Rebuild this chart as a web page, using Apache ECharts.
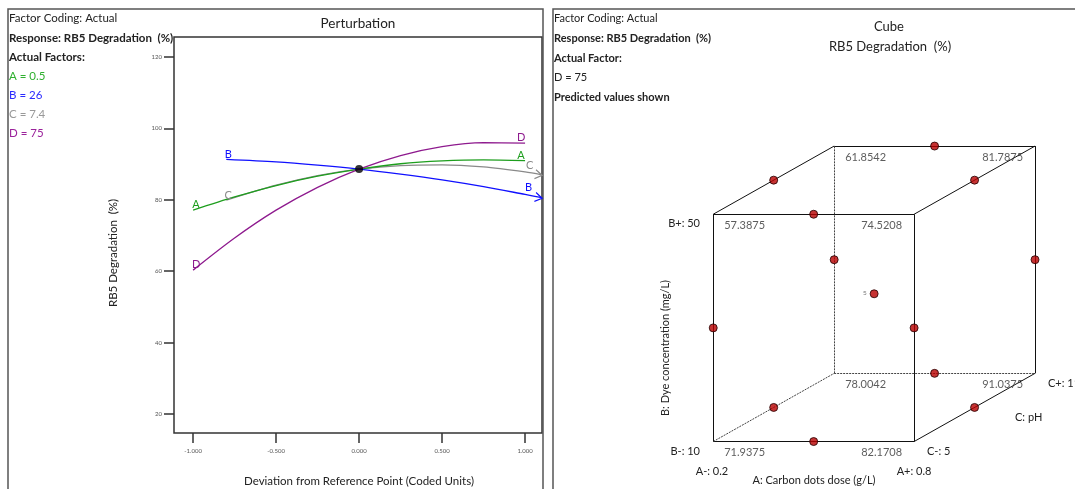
<!DOCTYPE html>
<html lang="en">
<head>
<meta charset="UTF-8">
<title>Perturbation and Cube</title>
<script src="https://cdn.jsdelivr.net/npm/echarts@6/dist/echarts.min.js"></script>
<style>
  html, body { margin: 0; padding: 0; background: #fff; }
  #chart { width: 1075px; height: 489px; }
</style>
</head>
<body>
<div id="chart"></div>
<script>
// ---- perturbation data (coded deviation vs RB5 degradation %) ----
var xAD = [-1, -0.75, -0.5, -0.25, 0, 0.25, 0.5, 0.75, 1];
var aValues = [77.1, 80.8, 84.0, 86.6, 88.6, 90.1, 90.9, 91.2, 91.0];
var dValues = [60.3, 69.3, 77.1, 83.5, 88.6, 92.4, 94.9, 96.0, 95.9];
var xBC = [-0.8, -0.5, -0.25, 0, 0.25, 0.5, 0.75, 1, 1.1];
var bValues = [91.3, 90.6, 89.7, 88.6, 87.2, 85.6, 83.7, 81.5, 80.6];
var cValues = [79.9, 84.1, 86.8, 88.6, 89.6, 89.8, 89.2, 87.8, 87.0];
var refPoint = [0, 88.6];
var xTicks = [-1, -0.5, 0, 0.5, 1];
var yTicks = [20, 40, 60, 80, 100, 120];

// ---- cube data (coded A, B, C) ----
var cubeCorners = [[-1,-1,-1],[1,-1,-1],[-1,-1,1],[1,-1,1],[-1,1,-1],[1,1,-1],[-1,1,1],[1,1,1]];
var cornerValues = [71.9375, 82.1708, 78.0042, 91.0375, 57.3875, 74.5208, 61.8542, 81.7875];
var designRuns = [[0,-1,-1],[0,1,-1],[0,-1,1],[0,1,1],[-1,0,-1],[1,0,-1],[-1,0,1],[1,0,1],[-1,-1,0],[1,-1,0],[-1,1,0],[1,1,0]];
var centerRuns = 5;

var FONT = 'Lato, "Noto Sans", sans-serif';
var colA = '#1e9e1e', colB = '#1010ff', colC = '#8a8a8a', colD = '#8e1a8e';

// oblique projection of the cube
function proj(p) { return [p[0] + 0.602 * p[2], p[1] + 0.3 * p[2]]; }

function lineData(xs, ys, name, color, leftOff, rightOff, arrowRot) {
  return xs.map(function (x, i) {
    var item = { value: [x, ys[i]] };
    var lab = { show: true, formatter: name, position: 'top', distance: 0, color: color, fontSize: 11, fontFamily: FONT };
    if (i === 0) item.label = Object.assign({}, lab, { offset: leftOff });
    if (i === xs.length - 1) {
      item.label = Object.assign({}, lab, { offset: rightOff });
      if (arrowRot !== undefined) {
        item.symbol = 'path://M0,0L10,5L0,10';
        item.symbolSize = [7, 9];
        item.symbolOffset = [-3, 0];
        item.symbolRotate = arrowRot;
        item.itemStyle = { color: 'rgba(0,0,0,0)', borderColor: color, borderWidth: 1.2 };
      }
    }
    return item;
  });
}

function lineSeries(data, color) {
  return {
    type: 'line', xAxisIndex: 0, yAxisIndex: 0, smooth: 0.3,
    symbol: 'circle', symbolSize: 0, data: data,
    lineStyle: { color: color, width: 1.3 },
    itemStyle: { color: color }, silent: true, animation: false
  };
}

// cube edges
var edges = [];
for (var i = 0; i < cubeCorners.length; i++) {
  for (var j = i + 1; j < cubeCorners.length; j++) {
    var p = cubeCorners[i], q = cubeCorners[j], diff = 0;
    for (var k = 0; k < 3; k++) if (p[k] !== q[k]) diff++;
    if (diff === 1) {
      var hidden = (p[0] === -1 && p[1] === -1 && p[2] === 1) || (q[0] === -1 && q[1] === -1 && q[2] === 1);
      edges.push({ coords: [proj(p), proj(q)], hidden: hidden });
    }
  }
}

var cornerData = cubeCorners.map(function (c, i) {
  var xy = proj(c);
  var left = c[0] === -1;
  return {
    value: [xy[0], xy[1], cornerValues[i]],
    label: { position: [left ? 11 : -12, 11], align: left ? 'left' : 'right', verticalAlign: 'middle' }
  };
});

var runData = designRuns.map(function (r) { return proj(r); });
runData.push({ value: proj([0, 0, 0]), label: { show: true, formatter: String(centerRuns), position: 'left', distance: 3, fontSize: 6, color: '#555' } });

function txt(x, y, s, opt) {
  opt = opt || {};
  return {
    type: 'text', x: x, y: y, rotation: opt.rot || 0, z: 10,
    style: {
      text: s, fill: opt.color || '#222', textAlign: opt.align || 'left', textVerticalAlign: 'middle',
      font: (opt.bold ? 'bold ' : '') + (opt.size || 11) + 'px ' + FONT
    }
  };
}

var chart = echarts.init(document.getElementById('chart'));
chart.setOption({
  animation: false,
  backgroundColor: '#fff',
  grid: [
    { left: 174, top: 37, width: 368, height: 396, show: true, borderColor: '#333', borderWidth: 1.5, backgroundColor: 'transparent' },
    { left: 613, top: 129, width: 462, height: 358, show: false }
  ],
  xAxis: [
    {
      type: 'value', gridIndex: 0, min: -1.115, max: 1.102,
      axisLine: { show: false, onZero: false }, splitLine: { show: false },
      axisTick: { show: true, length: 10, customValues: xTicks, lineStyle: { color: '#333', width: 1.5 } },
      axisLabel: { customValues: xTicks, margin: 15, fontSize: 6, color: '#555', fontFamily: FONT,
        formatter: function (v) { return v.toFixed(3); } }
    },
    { type: 'value', gridIndex: 1, min: -2.6, max: 2.0, show: false }
  ],
  yAxis: [
    {
      type: 'value', gridIndex: 0, min: 14.68, max: 125.6,
      axisLine: { show: false, onZero: false }, splitLine: { show: false },
      axisTick: { show: true, length: 10, customValues: yTicks, lineStyle: { color: '#333', width: 1.5 } },
      axisLabel: { customValues: yTicks, margin: 12, fontSize: 6, color: '#555', fontFamily: FONT }
    },
    { type: 'value', gridIndex: 1, min: -1.7, max: 1.45, show: false }
  ],
  series: [
    lineSeries(lineData(xBC, cValues, 'C', colC, [2, 1], [-9, 2], -10), colC),
    lineSeries(lineData(xAD, aValues, 'A', colA, [3, 0], [-4, 0]), colA),
    lineSeries(lineData(xBC, bValues, 'B', colB, [2, 0], [-10, 1], -11), colB),
    lineSeries(lineData(xAD, dValues, 'D', colD, [3, 0], [-4, 0]), colD),
    {
      type: 'scatter', xAxisIndex: 0, yAxisIndex: 0, data: [refPoint],
      symbolSize: 8, itemStyle: { color: '#000' }, silent: true, z: 5
    },
    {
      type: 'lines', coordinateSystem: 'cartesian2d', xAxisIndex: 1, yAxisIndex: 1, silent: true,
      data: edges.filter(function (e) { return !e.hidden; }),
      lineStyle: { color: '#111', width: 1, type: 'solid', opacity: 1 }
    },
    {
      type: 'lines', coordinateSystem: 'cartesian2d', xAxisIndex: 1, yAxisIndex: 1, silent: true,
      data: edges.filter(function (e) { return e.hidden; }),
      lineStyle: { color: '#444', width: 1, type: [2, 1], opacity: 1 }
    },
    {
      type: 'scatter', xAxisIndex: 1, yAxisIndex: 1, data: cornerData, symbolSize: 0, silent: true,
      label: { show: true, fontSize: 11, color: '#333', fontFamily: FONT,
        formatter: function (p) { return p.value[2].toFixed(4); } }
    },
    {
      type: 'scatter', xAxisIndex: 1, yAxisIndex: 1, data: runData, symbolSize: 8, silent: true, z: 5,
      itemStyle: { color: '#b80000', borderColor: '#200', borderWidth: 1 }
    }
  ],
  graphic: [
    { type: 'rect', shape: { x: 8, y: 9, width: 535, height: 495 }, style: { fill: 'none', stroke: '#555', lineWidth: 1.5 }, z: 1 },
    { type: 'rect', shape: { x: 553, y: 9, width: 540, height: 495 }, style: { fill: 'none', stroke: '#555', lineWidth: 1.5 }, z: 1 },
    // left panel
    txt(9, 18, 'Factor Coding: Actual', { size: 11.5 }),
    txt(9, 38, 'Response: RB5 Degradation  (%)', { bold: true, size: 11.5 }),
    txt(9, 57, 'Actual Factors:', { bold: true, size: 11.5 }),
    txt(9, 76, 'A = 0.5', { color: '#2fb02f', size: 11.5 }),
    txt(9, 95, 'B = 26', { color: '#2a2aff', size: 11.5 }),
    txt(9, 114, 'C = 7.4', { color: '#999', size: 11.5 }),
    txt(9, 133, 'D = 75', { color: '#9b229b', size: 11.5 }),
    txt(358, 24, 'Perturbation', { align: 'center', size: 13.5 }),
    txt(359, 481, 'Deviation from Reference Point (Coded Units)', { align: 'center', size: 11.5 }),
    txt(113, 253, 'RB5 Degradation  (%)', { align: 'center', rot: Math.PI / 2, size: 11.5 }),
    // right panel
    txt(554, 18, 'Factor Coding: Actual'),
    txt(554, 38, 'Response: RB5 Degradation  (%)', { bold: true }),
    txt(554, 58, 'Actual Factor:', { bold: true }),
    txt(554, 77, 'D = 75'),
    txt(554, 97, 'Predicted values shown', { bold: true }),
    txt(889, 27, 'Cube', { align: 'center', size: 13 }),
    txt(890, 47, 'RB5 Degradation  (%)', { align: 'center', size: 13 }),
    txt(700, 223, 'B+: 50', { align: 'right' }),
    txt(700, 451, 'B-: 10', { align: 'right' }),
    txt(712, 471, 'A-: 0.2', { align: 'center' }),
    txt(914, 471, 'A+: 0.8', { align: 'center' }),
    txt(927, 451, 'C-: 5'),
    txt(1048, 383, 'C+: 11'),
    txt(1015, 417, 'C: pH'),
    txt(814, 480, 'A: Carbon dots dose (g/L)', { align: 'center' }),
    txt(665, 348, 'B: Dye concentration (mg/L)', { align: 'center', rot: Math.PI / 2 })
  ]
});
</script>
</body>
</html>
